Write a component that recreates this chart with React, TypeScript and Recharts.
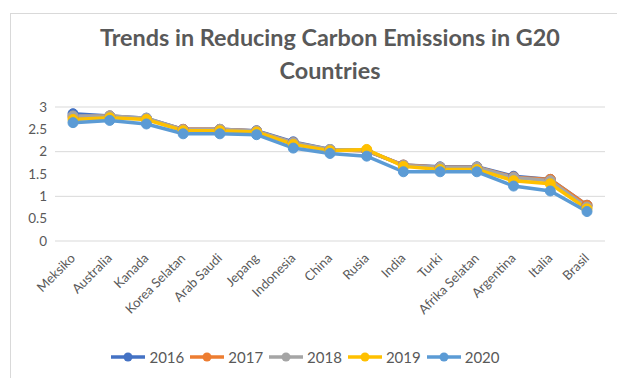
import React from 'react';
import { LineChart, Line, XAxis, YAxis, CartesianGrid, Legend } from 'recharts';

const countries = [
  'Meksiko', 'Australia', 'Kanada', 'Korea Selatan', 'Arab Saudi', 'Jepang', 'Indonesia',
  'China', 'Rusia', 'India', 'Turki', 'Afrika Selatan', 'Argentina', 'Italia', 'Brasil',
];
const y2016 = [2.85, 2.8, 2.75, 2.5, 2.5, 2.47, 2.22, 2.05, 2.02, 1.7, 1.66, 1.66, 1.45, 1.38, 0.8];
const y2017 = [2.78, 2.8, 2.73, 2.5, 2.5, 2.46, 2.2, 2.04, 2.02, 1.7, 1.65, 1.65, 1.43, 1.38, 0.8];
const y2018 = [2.8, 2.8, 2.75, 2.49, 2.5, 2.46, 2.2, 2.05, 2.03, 1.69, 1.65, 1.65, 1.42, 1.35, 0.76];
const y2019 = [2.72, 2.76, 2.72, 2.47, 2.47, 2.44, 2.16, 2.02, 2.05, 1.67, 1.6, 1.6, 1.35, 1.28, 0.72];
const y2020 = [2.65, 2.7, 2.62, 2.4, 2.4, 2.38, 2.08, 1.96, 1.9, 1.55, 1.55, 1.55, 1.23, 1.12, 0.66];
const yTicks = [0, 0.5, 1, 1.5, 2, 2.5, 3];

const series = [
  { key: '2016', values: y2016, color: '#4472C4' },
  { key: '2017', values: y2017, color: '#ED7D31' },
  { key: '2018', values: y2018, color: '#A5A5A5' },
  { key: '2019', values: y2019, color: '#FFC000' },
  { key: '2020', values: y2020, color: '#5B9BD5' },
];

const data = countries.map((c, i) => {
  const row: any = { name: c };
  series.forEach(s => { row[s.key] = s.values[i]; });
  return row;
});

const font = 'Lato, "Open Sans", sans-serif';

const AngledTick = ({ x, y, payload }: any) => (
  <text
    x={x + 3}
    y={y + 10}
    transform={`rotate(-45, ${x + 3}, ${y + 10})`}
    textAnchor="end"
    fill="#595959"
    fontSize={13}
    fontFamily={font}
  >
    {payload.value}
  </text>
);

export default function App() {
  return (
    <div style={{ position: 'fixed', left: 0, top: 0, width: 617, height: 378, background: '#fff', fontFamily: font, overflow: 'hidden' }}>
      {/* chart frame, only its top and left edges fall inside the picture */}
      <div style={{ position: 'absolute', left: 10, top: 13, width: 640, height: 400, border: '1px solid #d9d9d9' }} />
      <div
        style={{
          position: 'absolute', left: 0, top: 21, width: 660, textAlign: 'center',
          fontSize: 23.4, fontWeight: 700, color: '#595959', lineHeight: '33px',
        }}
      >
        Trends in Reducing Carbon Emissions in G20
        <br />
        Countries
      </div>
      <LineChart
        width={617}
        height={378}
        data={data}
        margin={{ top: 107, right: 12, left: 0, bottom: 0 }}
        style={{ position: 'absolute', left: 0, top: 0 }}
      >
        <CartesianGrid horizontal vertical={false} stroke="#d9d9d9" />
        <XAxis
          dataKey="name"
          interval={0}
          height={95}
          axisLine={false}
          tickLine={false}
          padding={{ left: 18, right: 18 }}
          tick={<AngledTick />}
        />
        <YAxis
          width={55}
          domain={[0, 3]}
          ticks={yTicks}
          axisLine={false}
          tickLine={false}
          tick={{ fill: '#595959', fontSize: 13.5, fontFamily: font }}
        />
        <Legend
          verticalAlign="bottom"
          height={42}
          content={() => (
            <div style={{ display: 'flex', justifyContent: 'center', alignItems: 'center', height: 42, paddingLeft: 8 }}>
              {series.map(s => (
                <div key={s.key} style={{ display: 'flex', alignItems: 'center', marginRight: 4 }}>
                  <svg width={38} height={12}>
                    <line x1={2} y1={6} x2={36} y2={6} stroke={s.color} strokeWidth={3.5} />
                    <circle cx={19} cy={6} r={4.5} fill={s.color} />
                  </svg>
                  <span style={{ fontSize: 15, color: '#595959', marginLeft: 2 }}>{s.key}</span>
                </div>
              ))}
            </div>
          )}
        />
        {series.map(s => (
          <Line
            key={s.key}
            dataKey={s.key}
            stroke={s.color}
            strokeWidth={3.5}
            dot={{ r: 5, fill: s.color, stroke: s.color, strokeWidth: 1 }}
            activeDot={false}
            isAnimationActive={false}
          />
        ))}
      </LineChart>
    </div>
  );
}
